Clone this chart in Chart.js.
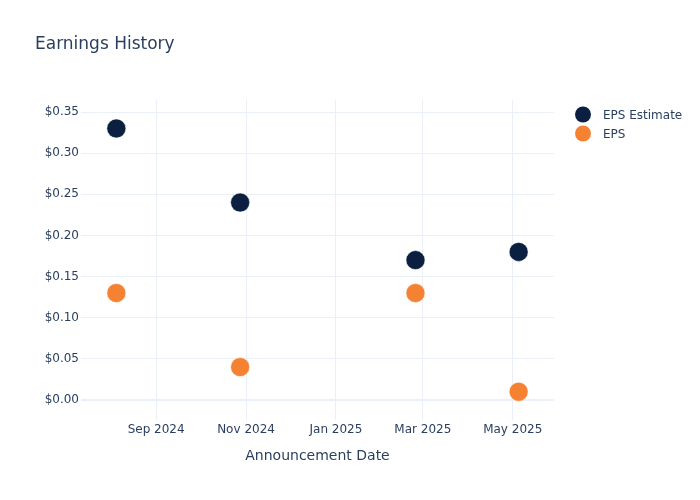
<!DOCTYPE html>
<html>
<head>
<meta charset="utf-8">
<script src="https://cdn.jsdelivr.net/npm/chart.js@4"></script>
<style>
  html, body { margin: 0; padding: 0; background: #fff; }
</style>
</head>
<body>
<canvas id="chart" width="700" height="500"></canvas>
<script>
// data
const dates = ['2024-08-05', '2024-10-28', '2025-02-24', '2025-05-05'];
const epsEstimate = [0.33, 0.24, 0.17, 0.18];
const epsActual = [0.13, 0.04, 0.13, 0.01];
const seriesNames = ['EPS Estimate', 'EPS'];
const seriesColors = ['#0b1f41', '#f58233'];

const tickDates = ['2024-09-01', '2024-11-01', '2025-01-01', '2025-03-01', '2025-05-01'];
const tickLabels = ['Sep 2024', 'Nov 2024', 'Jan 2025', 'Mar 2025', 'May 2025'];
const yTicks = [0, 0.05, 0.10, 0.15, 0.20, 0.25, 0.30, 0.35];
const xRange = ['2024-07-12', '2025-05-29'];
const yRange = [-0.0243, 0.3646];

const FONT = '"DejaVu Sans", Verdana, sans-serif';
const TEXT = '#2a3f5f';
const GRID = '#ebf0f8';

// date string -> day number
function toDay(s) {
    return Date.parse(s + 'T00:00:00Z') / 86400000;
}

function points(values) {
    return values.map((v, i) => ({ x: toDay(dates[i]), y: v }));
}

const extras = {
    id: 'extras',
    afterDraw(chart) {
        const ctx = chart.ctx;
        ctx.save();
        ctx.fillStyle = TEXT;
        ctx.font = '17px ' + FONT;
        ctx.textBaseline = 'middle';
        ctx.textAlign = 'left';
        ctx.fillText('Earnings History', 35, 45);

        ctx.font = '14px ' + FONT;
        ctx.textAlign = 'center';
        const area = chart.chartArea;
        ctx.fillText('Announcement Date', (area.left + area.right) / 2, 456);

        // legend
        ctx.font = '12px ' + FONT;
        ctx.textAlign = 'left';
        seriesNames.forEach((name, i) => {
            const y = 114.5 + i * 19;
            ctx.beginPath();
            ctx.arc(583, y, 8, 0, Math.PI * 2);
            ctx.fillStyle = seriesColors[i];
            ctx.fill();
            ctx.fillStyle = TEXT;
            ctx.fillText(name, 603, y + 1);
        });
        ctx.restore();
    }
};

new Chart(document.getElementById('chart'), {
    type: 'scatter',
    data: {
        datasets: [
            {
                label: seriesNames[0],
                data: points(epsEstimate),
                backgroundColor: seriesColors[0],
                borderColor: '#ffffff',
                borderWidth: 0.5,
                pointRadius: 9.5,
                pointHoverRadius: 9.5
            },
            {
                label: seriesNames[1],
                data: points(epsActual),
                backgroundColor: seriesColors[1],
                borderColor: '#ffffff',
                borderWidth: 0.5,
                pointRadius: 9.5,
                pointHoverRadius: 9.5
            }
        ]
    },
    options: {
        responsive: false,
        animation: false,
        layout: { padding: { top: 100, right: 146, left: 0, bottom: 0 } },
        plugins: {
            legend: { display: false },
            title: { display: false },
            tooltip: { enabled: false }
        },
        scales: {
            x: {
                type: 'linear',
                min: toDay(xRange[0]),
                max: toDay(xRange[1]),
                afterBuildTicks(scale) {
                    scale.ticks = tickDates.map(d => ({ value: toDay(d) }));
                },
                afterFit(scale) { scale.height = 80; },
                border: { display: false },
                grid: { color: GRID, lineWidth: 1, drawTicks: false },
                ticks: {
                    padding: 3,
                    maxRotation: 0,
                    color: TEXT,
                    font: { family: FONT, size: 12 },
                    callback: (v, i) => tickLabels[i]
                }
            },
            y: {
                min: yRange[0],
                max: yRange[1],
                afterBuildTicks(scale) {
                    scale.ticks = yTicks.map(v => ({ value: v }));
                },
                afterFit(scale) { scale.width = 81; },
                border: { display: false },
                grid: {
                    color: GRID,
                    drawTicks: false,
                    lineWidth: c => (c.tick && c.tick.value === 0 ? 2 : 1)
                },
                ticks: {
                    padding: 2,
                    color: TEXT,
                    font: { family: FONT, size: 12 },
                    callback: v => '$' + Number(v).toFixed(2)
                }
            }
        }
    },
    plugins: [extras]
});
</script>
</body>
</html>
